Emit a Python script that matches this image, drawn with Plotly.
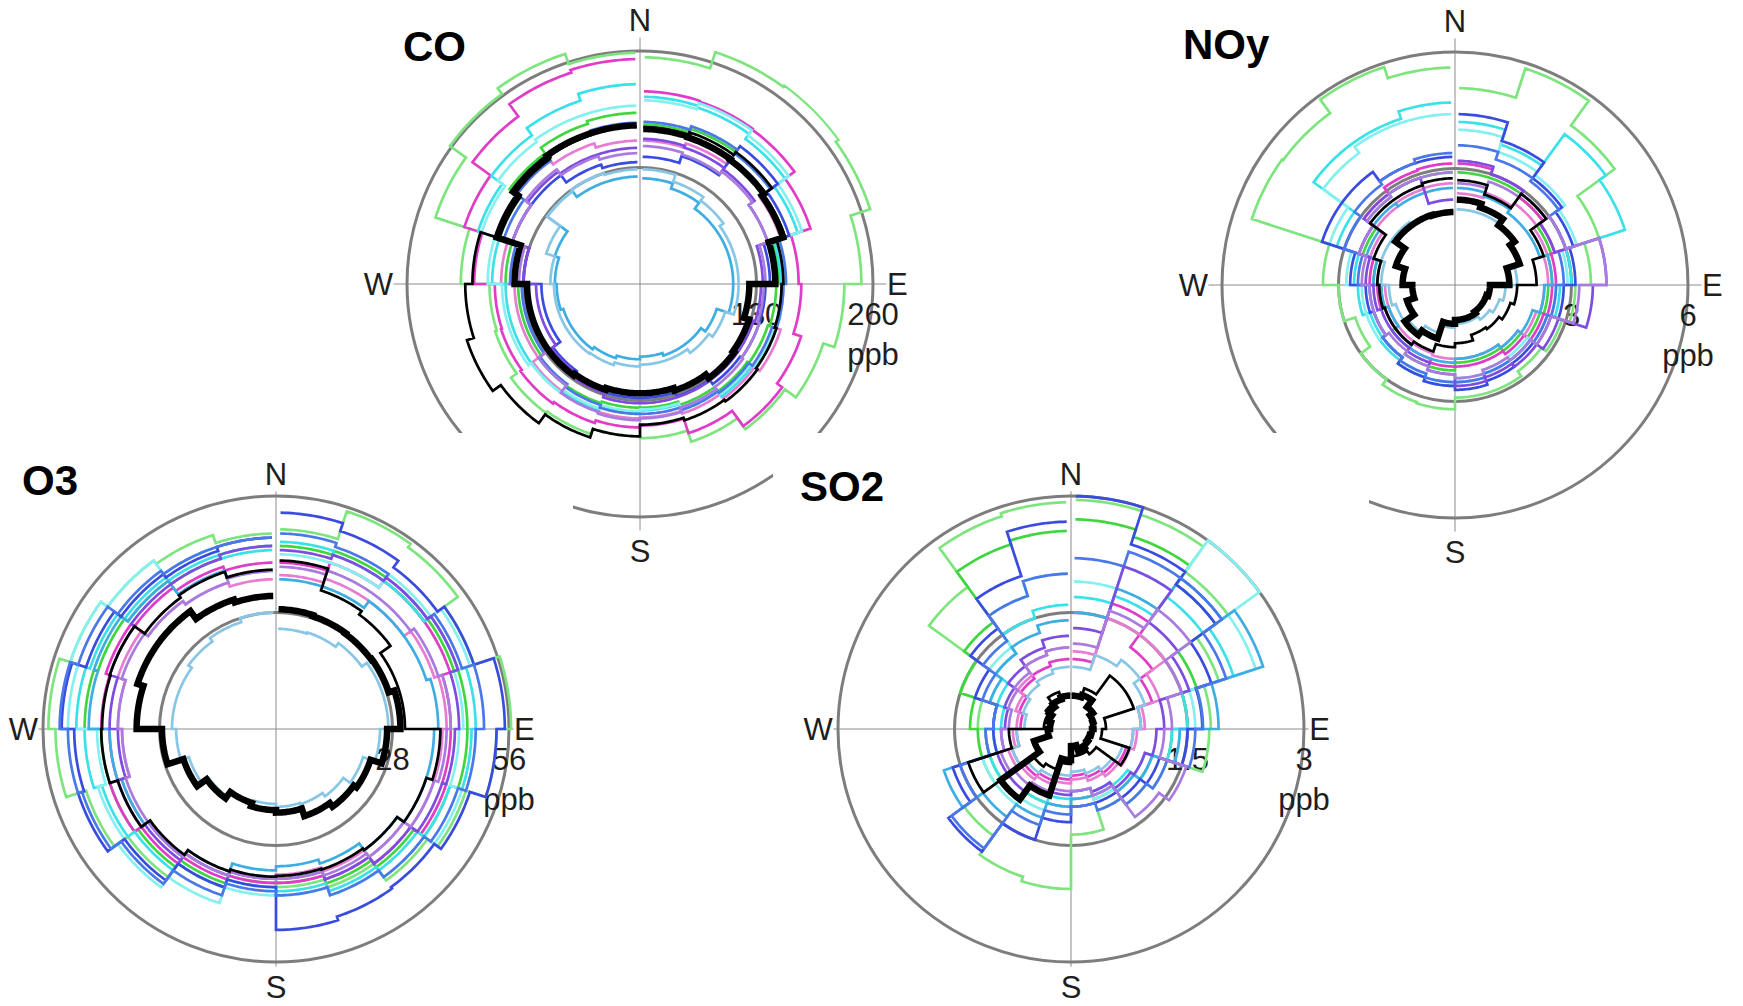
import numpy as np
import plotly.graph_objects as go

# ---------------- data ----------------
# 20 wind-direction sectors of 18 degrees, clockwise from North
N_SECTORS = 20
SERIES_NAMES = ["s01", "s02", "s03", "s04", "s05", "s06", "s07", "s08",
                "s09", "s10", "s11", "s12", "black thin", "black thick"]
SERIES_COLORS = ["#7ee57e", "#3fd63f", "#e03cc8", "#e67dd3", "#3ce0e8", "#84f0f0",
                 "#3eaee2", "#88c6e6", "#3a4ce0", "#4a78e8", "#7e4ce0", "#a97bde",
                 "#000000", "#000000"]
SERIES_WIDTHS = [2.7] * 12 + [2.7, 6.5]

# CO (ppb)
CO_TICKS = [130, 260]
CO_PPB = [
    [253, 272, 274, 270, 247, 228, 215, 200, 185, 172, 170, 176, 178, 170, 168, 200, 240, 262, 270, 258],
    [178, 182, 180, 170, 155, 152, 150, 148, 142, 138, 138, 140, 140, 136, 136, 150, 165, 180, 188, 191],
    [215, 214, 213, 200, 177, 180, 189, 196, 175, 158, 160, 163, 165, 163, 162, 185, 206, 231, 248, 251],
    [160, 165, 170, 165, 158, 160, 165, 158, 152, 149, 150, 150, 148, 140, 140, 155, 170, 170, 165, 160],
    [209, 207, 200, 185, 157, 158, 160, 155, 148, 141, 143, 148, 150, 150, 150, 165, 190, 205, 215, 223],
    [205, 212, 205, 190, 160, 160, 158, 152, 145, 140, 142, 146, 150, 154, 154, 170, 186, 196, 199, 199],
    [118, 112, 104, 104, 104, 104, 90, 84, 84, 81, 84, 87, 90, 90, 93, 95, 100, 128, 120, 120],
    [128, 120, 115, 110, 110, 110, 100, 95, 90, 90, 92, 95, 96, 96, 96, 100, 110, 128, 130, 128],
    [142, 150, 190, 175, 145, 140, 140, 138, 132, 127, 127, 125, 120, 110, 110, 130, 150, 150, 140, 136],
    [181, 185, 180, 168, 163, 160, 155, 150, 148, 145, 145, 142, 138, 132, 132, 145, 160, 170, 175, 180],
    [162, 160, 158, 150, 137, 135, 133, 133, 133, 133, 133, 128, 122, 116, 116, 130, 150, 155, 152, 152],
    [154, 152, 155, 150, 140, 138, 140, 142, 145, 150, 152, 150, 140, 125, 125, 135, 150, 158, 150, 146],
    [175, 178, 182, 170, 160, 158, 160, 162, 160, 157, 170, 180, 192, 203, 195, 187, 165, 172, 175, 176],
    [173, 172, 171, 168, 151, 122, 128, 130, 125, 122, 122, 124, 126, 126, 126, 140, 168, 175, 177, 177],
]

# NOy (ppb)
NOY_TICKS = [3, 6]
NOY_PPB = [
    [5.07, 5.86, 5.08, 3.9, 3.5, 3.1, 2.9, 2.75, 2.9, 2.9, 3.2, 3.17, 3.0, 2.7, 3.0, 3.4, 5.5, 5.47, 5.9, 5.6],
    [2.9, 2.9, 2.8, 2.6, 2.5, 2.4, 2.3, 2.1, 2.0, 2.0, 2.2, 2.2, 2.0, 1.9, 1.9, 2.1, 2.5, 2.8, 2.9, 2.9],
    [3.13, 3.0, 2.8, 2.7, 2.6, 2.5, 2.4, 2.2, 2.1, 2.1, 2.1, 2.0, 1.9, 1.9, 2.0, 2.2, 2.6, 2.9, 3.1, 3.13],
    [2.36, 2.5, 2.6, 2.5, 2.4, 2.3, 2.2, 2.0, 1.9, 1.9, 1.9, 1.85, 1.8, 1.8, 1.8, 2.0, 2.3, 2.5, 2.6, 2.62],
    [4.2, 3.8, 4.8, 4.6, 3.0, 2.7, 2.5, 2.4, 2.4, 2.5, 2.6, 2.5, 2.4, 2.3, 2.5, 2.6, 3.2, 4.5, 4.5, 4.7],
    [4.0, 3.6, 3.5, 3.3, 2.9, 2.6, 2.5, 2.3, 2.3, 2.4, 2.5, 2.4, 2.3, 2.4, 2.4, 2.8, 3.4, 4.2, 4.4, 4.4],
    [2.5, 2.4, 2.3, 2.3, 2.5, 2.3, 2.1, 2.0, 1.9, 1.9, 2.0, 2.0, 1.9, 1.8, 1.9, 2.1, 2.4, 2.6, 2.5, 2.5],
    [1.95, 1.95, 1.9, 1.8, 1.6, 1.3, 1.2, 1.1, 1.0, 1.0, 1.1, 1.3, 1.5, 1.6, 1.7, 1.9, 2.0, 2.0, 1.95, 1.9],
    [4.4, 3.9, 3.4, 3.2, 3.1, 2.8, 2.6, 2.5, 2.6, 2.7, 2.6, 2.5, 2.3, 2.2, 2.3, 2.7, 3.6, 3.6, 3.3, 3.3],
    [3.6, 3.4, 3.3, 3.0, 2.8, 2.6, 2.5, 2.4, 2.4, 2.5, 2.5, 2.4, 2.3, 2.2, 2.2, 2.5, 3.0, 3.2, 3.3, 3.4],
    [3.2, 3.0, 2.9, 2.7, 3.9, 3.55, 2.8, 2.6, 2.5, 2.6, 2.3, 2.1, 2.0, 2.0, 2.1, 2.3, 2.6, 2.9, 2.9, 2.2],
    [2.62, 2.8, 2.9, 3.0, 3.9, 3.2, 2.6, 2.4, 2.3, 2.4, 2.3, 2.2, 2.1, 2.2, 2.2, 2.4, 2.6, 2.8, 2.9, 2.9],
    [2.7, 2.45, 2.9, 2.4, 2.1, 1.6, 1.5, 1.4, 1.35, 1.5, 1.6, 1.8, 1.9, 1.9, 1.95, 2.0, 2.2, 2.7, 2.7, 2.75],
    [2.2, 2.1, 1.9, 1.75, 1.4, 0.9, 0.85, 0.85, 0.9, 0.9, 1.0, 1.45, 1.6, 1.3, 1.1, 1.35, 1.6, 1.9, 1.9, 1.88],
]

# O3 (ppb)
O3_TICKS = [28, 56]
O3_PPB = [
    [48, 55, 54, 50, 56.5, 53, 48, 45, 40, 38, 36, 40, 44, 48, 53, 54.7, 52, 50, 49, 47],
    [44, 45, 44, 45, 46, 46, 44, 41, 39, 37, 37, 39, 41, 42, 42, 46, 45, 44, 43, 44],
    [40, 42, 44, 44, 42, 42, 43, 40, 38, 37, 37, 38, 40, 42, 40, 42, 43, 42, 41, 40],
    [37, 38, 38, 40, 41, 40, 40, 38, 36, 35, 36, 37, 38, 39, 37, 38, 40, 38, 37, 36],
    [45, 44, 44, 46, 48, 47, 44, 42, 41, 39, 38, 40, 42, 44, 46, 48, 47, 45, 44, 43],
    [42, 42, 46, 49, 45, 44, 47, 44, 42, 40, 40, 44, 47, 45, 43, 50, 52, 50, 46, 44],
    [36, 36, 38, 38, 39, 38, 38, 36, 34, 33, 34, 36, 38, 39, 40, 45, 46, 44, 40, 38],
    [24.1, 24.4, 25.5, 27, 27, 25, 22, 20, 19, 18.7, 18, 18.5, 20, 22, 24, 25, 25, 26, 27, 28],
    [52, 50, 48, 50, 55, 53, 49, 47, 47.4, 48.3, 38, 40, 45, 50, 48.5, 51.5, 48, 46, 45, 46],
    [47, 46, 45, 47, 50, 48, 46, 44, 42, 40, 39, 42, 46, 49, 50, 52, 50, 47, 46, 46],
    [43, 44, 45, 46, 44, 43, 42, 40, 38, 36, 36, 37, 39, 40, 38, 40, 42, 43, 43, 44],
    [39, 40, 40, 41, 42, 41, 40, 38, 37, 36, 36, 37, 38, 38, 37, 38, 39, 38, 37, 38],
    [40.5, 35, 34, 31, 31, 39.5, 38, 36, 35.5, 35.3, 35.5, 36, 37.4, 40, 42, 41.8, 42, 39, 39.7, 38.3],
    [28.8, 28.5, 28.3, 28.5, 29.9, 26.7, 23.9, 23.1, 22, 20.1, 19.5, 18.7, 20.6, 23.4, 27.4, 33.5, 35, 35, 32.7, 32],
]

# SO2 (ppb)
SO2_TICKS = [1.5, 3]
SO2_PPB = [
    [2.95, 2.9, 2.5, 2.0, 1.8, 1.78, 1.3, 1.2, 1.1, 1.36, 2.06, 2.0, 1.7, 1.2, 1.1, 1.2, 1.5, 2.26, 2.88, 2.92],
    [2.7, 2.6, 2.3, 1.7, 1.5, 1.3, 1.1, 1.0, 0.95, 0.9, 1.0, 1.0, 1.1, 1.1, 1.2, 1.3, 1.5, 1.7, 2.5, 2.55],
    [0.9, 1.7, 1.3, 1.1, 0.9, 0.8, 0.75, 0.7, 0.65, 0.6, 0.65, 0.7, 0.75, 0.8, 0.7, 0.65, 0.7, 0.8, 0.85, 0.9],
    [1.0, 1.5, 1.5, 1.2, 0.95, 0.85, 0.8, 0.75, 0.7, 0.65, 0.7, 0.75, 0.8, 0.85, 0.75, 0.7, 0.75, 0.85, 1.0, 1.05],
    [1.7, 1.8, 2.1, 2.2, 1.5, 1.3, 1.0, 0.9, 0.85, 0.8, 0.9, 1.0, 1.1, 1.1, 1.0, 0.9, 1.0, 1.2, 1.5, 1.6],
    [1.9, 2.2, 3.0, 2.5, 1.6, 1.4, 1.1, 1.0, 0.95, 0.9, 1.0, 1.1, 1.2, 1.2, 1.0, 1.0, 1.1, 1.3, 1.8, 2.0],
    [1.5, 1.9, 2.4, 2.6, 1.9, 1.4, 1.1, 1.0, 0.9, 0.9, 1.0, 1.2, 1.4, 1.72, 1.1, 1.0, 1.1, 1.2, 1.3, 1.4],
    [0.8, 1.0, 1.1, 1.0, 0.9, 0.8, 0.7, 0.65, 0.6, 0.55, 0.6, 0.65, 0.7, 0.8, 0.7, 0.6, 0.65, 0.7, 0.75, 0.8],
    [3.0, 2.5, 2.3, 1.9, 1.69, 1.5, 1.2, 1.1, 1.0, 1.0, 1.2, 1.5, 1.95, 1.6, 1.0, 1.0, 1.3, 1.6, 2.07, 2.67],
    [2.2, 2.4, 2.4, 2.1, 1.7, 1.6, 1.3, 1.2, 1.1, 1.0, 1.1, 1.3, 1.9, 1.5, 1.1, 1.0, 1.2, 1.4, 1.8, 2.0],
    [1.3, 2.2, 1.7, 1.6, 1.2, 1.1, 1.0, 0.95, 0.85, 0.8, 0.85, 0.9, 1.0, 1.0, 0.9, 0.85, 0.9, 1.0, 1.1, 1.2],
    [1.1, 1.6, 1.9, 1.5, 1.3, 1.2, 1.56, 1.4, 0.9, 0.8, 0.8, 0.85, 0.9, 0.95, 0.9, 0.8, 0.85, 0.9, 1.0, 1.05],
    [0.45, 0.55, 0.85, 0.85, 0.45, 0.4, 0.79, 0.4, 0.35, 0.35, 0.45, 0.55, 0.6, 1.39, 0.8, 0.35, 0.35, 0.4, 0.5, 0.45],
    [0.43, 0.46, 0.35, 0.3, 0.29, 0.27, 0.25, 0.27, 0.3, 0.22, 0.4, 0.9, 1.12, 0.5, 0.3, 0.27, 0.3, 0.35, 0.4, 0.43],
]

PANEL_TITLES = ["CO", "NOy", "O3", "SO2"]
UNIT = "ppb"
COMPASS_TICKS = [0, 90, 180, 270]
COMPASS_TEXT = ["N", "E", "S", "W"]

# ---------------- layout geometry (pixels) ----------------
W, H = 1743, 1006
FONT = "Liberation Sans, Arial, sans-serif"
R_TICK_PX = 233.0          # pixel radius of the outer tick circle
PANELS = [
    # (values, ticks, centre x, centre y, radial max)
    (CO_PPB, CO_TICKS, 640, 284, 275),
    (NOY_PPB, NOY_TICKS, 1455, 285, 6.35),
    (O3_PPB, O3_TICKS, 276, 729, 57.1),
    (SO2_PPB, SO2_TICKS, 1071, 729, 3.06),
]
TITLE_POS = [(434, 47), (1226, 44), (50, 480), (842, 486)]


def step_outline(values, gap=1.2, res=1.0):
    """Stepped sector outline: arc at each sector value, radial step between sectors."""
    n = len(values)
    th, rr = [], []
    for k, v in enumerate(values):
        a0 = k * 360.0 / n
        a1 = (k + 1) * 360.0 / n
        if k == 0:
            a0 += gap
        if k == n - 1:
            a1 -= gap
        m = int(np.ceil((a1 - a0) / res)) + 1
        th.extend(np.linspace(a0, a1, m).tolist())
        rr.extend([v] * m)
    return th, rr


fig = go.Figure()
layout_polars = {}
for i, (vals, ticks, cx, cy, rmax) in enumerate(PANELS):
    key = "polar" if i == 0 else f"polar{i + 1}"
    R = R_TICK_PX * rmax / ticks[1]
    dom_x = [(cx - R) / W, (cx + R) / W]
    dom_y = [1 - (cy + R) / H, 1 - (cy - R) / H]
    for s, row in enumerate(vals):
        th, rr = step_outline(row)
        fig.add_trace(go.Scatterpolar(
            r=rr, theta=th, mode="lines", subplot=key,
            name=SERIES_NAMES[s], showlegend=False, hoverinfo="skip",
            line=dict(color=SERIES_COLORS[s], width=SERIES_WIDTHS[s]),
        ))
    t0, t1 = ticks
    layout_polars[key] = dict(
        domain=dict(x=dom_x, y=dom_y),
        bgcolor="rgba(0,0,0,0)",
        angularaxis=dict(
            rotation=90, direction="clockwise",
            tickmode="array", tickvals=COMPASS_TICKS, ticktext=COMPASS_TEXT,
            showgrid=True, gridcolor="#8c8c8c", gridwidth=1.4,
            showline=False, ticks="", layer="below traces",
            tickfont=dict(family=FONT, size=31, color="#1e1e1e"),
        ),
        radialaxis=dict(
            range=[0, rmax], angle=0, tickangle=0, side="clockwise",
            tickmode="array", tickvals=[t0, t1],
            ticktext=[f"{t0:g}", f"{t1:g}<br>{UNIT}"],
            ticks="outside", ticklen=3, tickcolor="rgba(0,0,0,0)",
            showgrid=True, gridcolor="#7d7d7d", gridwidth=3.2,
            showline=False, layer="below traces",
            tickfont=dict(family=FONT, size=31, color="#1e1e1e"),
        ),
    )

annotations = []
for (tx, ty), title in zip(TITLE_POS, PANEL_TITLES):
    annotations.append(dict(
        x=tx / W, y=1 - ty / H, xref="paper", yref="paper",
        text=f"<b>{title}</b>", showarrow=False,
        font=dict(family=FONT, size=42, color="#000000"),
        xanchor="center", yanchor="middle",
    ))

# white patches where the lower panels overlap the upper ones
MASKS = [(440, 433, 573, 525), (773, 433, 880, 500), (1250, 433, 1369, 515)]
shapes = []
for x0, y0, x1, y1 in MASKS:
    shapes.append(dict(type="rect", xref="paper", yref="paper", layer="above",
                       x0=x0 / W, x1=x1 / W, y0=1 - y1 / H, y1=1 - y0 / H,
                       fillcolor="white", line=dict(width=0)))

fig.update_layout(
    width=W, height=H, margin=dict(l=0, r=0, t=0, b=0),
    paper_bgcolor="white", plot_bgcolor="white", showlegend=False,
    annotations=annotations, shapes=shapes, **layout_polars,
)

fig.write_html("out.html")
